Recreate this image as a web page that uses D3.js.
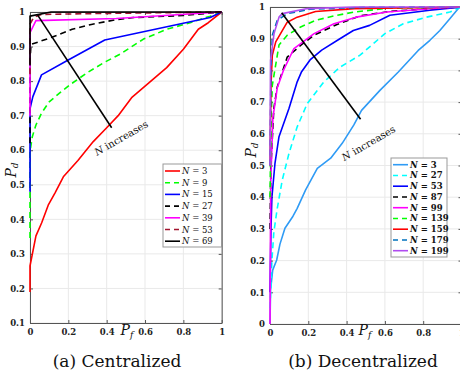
<!DOCTYPE html>
<html>
<head>
<meta charset="utf-8">
<script src="https://cdn.jsdelivr.net/npm/d3@7"></script>
<style>
  html, body { margin: 0; padding: 0; background: #fff; }
  svg { display: block; }
  svg text { font-family: "DejaVu Serif", "Liberation Serif", serif; }
  .tick-label { font-weight: bold; font-size: 8.5px; fill: #222; }
  .caption { font-size: 17px; fill: #111; }
</style>
</head>
<body>
<svg id="chart" width="460" height="381"></svg>
<script>
// ---- Centralized detection: ROC curves [Pf, Pd] ----
const cenN3  = [[0,0.19],[0,0.265],[0.031,0.352],[0.061,0.39],[0.095,0.441],[0.13,0.476],[0.174,0.523],[0.25,0.57],[0.33,0.625],[0.40,0.665],[0.46,0.70],[0.53,0.752],[0.62,0.795],[0.713,0.839],[0.80,0.892],[0.878,0.95],[0.93,0.969],[1,1]];
const cenN9  = [[0,0.346],[0,0.596],[0.012,0.639],[0.031,0.673],[0.06,0.707],[0.10,0.74],[0.16,0.768],[0.21,0.79],[0.30,0.825],[0.39,0.855],[0.47,0.878],[0.59,0.921],[0.713,0.95],[0.835,0.969],[0.94,0.988],[1,1]];
const cenN15 = [[0,0.48],[0,0.72],[0.015,0.755],[0.06,0.818],[0.19,0.858],[0.39,0.919],[0.94,0.984],[1,1]];
const cenN27 = [[0,0.62],[0,0.856],[0.005,0.906],[0.11,0.926],[0.22,0.95],[0.32,0.964],[0.45,0.978],[0.54,0.984],[0.80,0.99],[1,1]];
const cenN39 = [[0,0.70],[0,0.94],[0.031,0.975],[0.45,0.981],[1,1]];
const cenN53 = [[0,0.82],[0,0.965],[0.02,0.985],[0.06,0.993],[0.40,0.996],[1,1]];
const cenN69 = [[0,0.845],[0,0.988],[0.11,1],[1,1]];

// ---- Decentralized detection: ROC curves [Pf, Pd] ----
const decN3   = [[0,0],[0.003,0.107],[0.014,0.17],[0.035,0.202],[0.052,0.252],[0.078,0.302],[0.12,0.34],[0.142,0.365],[0.186,0.423],[0.247,0.491],[0.317,0.523],[0.377,0.57],[0.438,0.628],[0.478,0.674],[0.574,0.737],[0.67,0.795],[0.774,0.863],[0.835,0.895],[0.887,0.926],[0.939,0.963],[0.99,1],[1,1]];
const decN27  = [[0,0.05],[0.01,0.2],[0.02,0.29],[0.038,0.365],[0.064,0.454],[0.099,0.538],[0.142,0.622],[0.195,0.696],[0.282,0.764],[0.365,0.81],[0.47,0.848],[0.539,0.884],[0.60,0.916],[0.696,0.947],[0.817,0.968],[0.939,0.984],[1,1]];
const decN53  = [[0,0.1],[0.005,0.3],[0.01,0.4],[0.026,0.507],[0.047,0.591],[0.099,0.68],[0.142,0.764],[0.165,0.796],[0.209,0.833],[0.27,0.864],[0.365,0.90],[0.435,0.926],[0.52,0.942],[0.626,0.974],[0.835,0.99],[1,1]];
const decN87  = [[0,0.3],[0.005,0.5],[0.02,0.68],[0.038,0.748],[0.09,0.842],[0.16,0.879],[0.23,0.911],[0.35,0.945],[0.47,0.972],[0.626,0.986],[0.887,0.997],[1,1]];
const decN99  = [[0,0],[0.004,0.45],[0.015,0.65],[0.038,0.745],[0.07,0.80],[0.125,0.869],[0.23,0.916],[0.334,0.947],[0.45,0.968],[0.61,0.984],[0.887,0.997],[1,1]];
const decN139 = [[0,0.4],[0.006,0.65],[0.012,0.753],[0.047,0.88],[0.09,0.911],[0.16,0.937],[0.238,0.958],[0.35,0.974],[0.44,0.984],[0.61,0.996],[1,1]];
const decN159 = [[0,0.5],[0.005,0.75],[0.012,0.848],[0.03,0.89],[0.09,0.952],[0.142,0.968],[0.238,0.986],[0.44,0.995],[1,1]];
const decN179 = [[0,0.5],[0.005,0.8],[0.012,0.911],[0.038,0.958],[0.09,0.979],[0.21,0.993],[0.5,0.999],[1,1]];
const decN199 = [[0,0.5],[0.003,0.832],[0.021,0.916],[0.047,0.968],[0.064,0.979],[0.195,0.995],[0.44,1],[1,1]];

// legend labels (number of sensors)
const cenLabels = [3, 9, 15, 27, 39, 53, 69];
const decLabels = [3, 27, 53, 87, 99, 139, 159, 179, 199];

// tick values
const xTicks = [0, 0.2, 0.4, 0.6, 0.8, 1];
const cenYTicks = [0.1, 0.2, 0.3, 0.4, 0.5, 0.6, 0.7, 0.8, 0.9, 1];
const decYTicks = [0, 0.1, 0.2, 0.3, 0.4, 0.5, 0.6, 0.7, 0.8, 0.9, 1];

// "N increases" arrow line [from, to] and label anchor, in data units
const cenArrow = [[0.04, 0.991], [0.426, 0.665]];
const cenArrowText = [0.477, 0.634];
const decArrow = [[0.061, 0.982], [0.473, 0.646]];
const decArrowText = [0.516, 0.569];

const svg = d3.select("#chart");

const panels = [
  {
    series: [cenN3, cenN9, cenN15, cenN27, cenN39, cenN53, cenN69],
    labels: cenLabels,
    colors: ["#ff0000", "#00ff00", "#0000ff", "#000000", "#ff00ff", "#a2142f", "#000000"],
    dashed: [false, true, false, true, false, true, false],
    x: d3.scaleLinear().domain([0, 1]).range([30, 221.7]),
    y: d3.scaleLinear().domain([0.1, 1]).range([323, 12]),
    yTicks: cenYTicks,
    yFmt: d => d === 1 ? "1" : d3.format(".1f")(d),
    legend: { x: 163, y: 164, w: 58.5, h: 83, row: 11.7, first: 7 },
    legendBold: false,
    arrow: cenArrow, arrowText: cenArrowText,
    pd: [12, 170], pf: [127, 335],
    caption: "(a) Centralized", captionX: 117
  },
  {
    series: [decN3, decN27, decN53, decN87, decN99, decN139, decN159, decN179, decN199],
    labels: decLabels,
    colors: ["#2f9bf5", "#00ffff", "#0000ff", "#000000", "#ff00ff", "#00ff00", "#ff0000", "#0072bd", "#b04cf0"],
    dashed: [false, true, false, true, false, true, false, true, false],
    x: d3.scaleLinear().domain([0, 1]).range([270, 461.5]),
    y: d3.scaleLinear().domain([0, 1]).range([324, 7]),
    yTicks: decYTicks,
    yFmt: d => (d === 0 || d === 1) ? String(d) : d3.format(".1f")(d),
    legend: { x: 391, y: 158, w: 56, h: 99, row: 10.75, first: 6.7 },
    legendBold: true,
    arrow: decArrow, arrowText: decArrowText,
    pd: [252, 150], pf: [365, 335],
    caption: "(b) Decentralized", captionX: 363
  }
];

const fmtX = d => (d === 0 || d === 1) ? String(d) : d3.format(".1f")(d);

panels.forEach(p => {
  const g = svg.append("g");
  const [x0, x1] = p.x.range();
  const [y0, y1] = p.y.range(); // y0 bottom, y1 top

  // grid
  g.append("g").selectAll("line").data(xTicks).join("line")
    .attr("x1", d => p.x(d)).attr("x2", d => p.x(d))
    .attr("y1", y1).attr("y2", y0)
    .attr("stroke", "#e9e9e9").attr("stroke-width", 1);
  g.append("g").selectAll("line").data(p.yTicks).join("line")
    .attr("y1", d => p.y(d)).attr("y2", d => p.y(d))
    .attr("x1", x0).attr("x2", x1)
    .attr("stroke", "#e9e9e9").attr("stroke-width", 1);

  // axes via d3 (ticks pointing inward)
  const xAxis = d3.axisBottom(p.x).tickValues(xTicks).tickFormat(fmtX).tickSizeInner(-3).tickSizeOuter(0).tickPadding(6);
  const yAxis = d3.axisLeft(p.y).tickValues(p.yTicks).tickFormat(p.yFmt).tickSizeInner(-3).tickSizeOuter(0).tickPadding(5);
  const xTop = d3.axisTop(p.x).tickValues(xTicks).tickFormat("").tickSizeInner(-3).tickSizeOuter(0);
  const yRight = d3.axisRight(p.y).tickValues(p.yTicks).tickFormat("").tickSizeInner(-3).tickSizeOuter(0);

  const styleAxis = sel => {
    sel.attr("font-family", null).attr("font-size", null);
    sel.select(".domain").attr("stroke", "#555").attr("stroke-width", 1);
    sel.selectAll(".tick line").attr("stroke", "#555");
    sel.selectAll(".tick text").attr("class", "tick-label").attr("fill", null);
  };
  g.append("g").attr("transform", `translate(0,${y0})`).call(xAxis).call(styleAxis);
  g.append("g").attr("transform", `translate(${x0},0)`).call(yAxis).call(styleAxis);
  g.append("g").attr("transform", `translate(0,${y1})`).call(xTop).call(styleAxis);
  g.append("g").attr("transform", `translate(${x1},0)`).call(yRight).call(styleAxis);

  // curves
  const line = d3.line().x(d => p.x(d[0])).y(d => p.y(d[1]));
  const clipId = "clip" + Math.round(x0);
  svg.append("clipPath").attr("id", clipId).append("rect")
    .attr("x", x0 - 1.5).attr("y", y1 - 1.5).attr("width", x1 - x0 + 3).attr("height", y0 - y1 + 3);
  const curves = g.append("g").attr("clip-path", `url(#${clipId})`);
  p.series.forEach((s, i) => {
    curves.append("path").datum(s)
      .attr("d", line)
      .attr("fill", "none")
      .attr("stroke", p.colors[i])
      .attr("stroke-width", 1.6)
      .attr("stroke-linejoin", "round")
      .attr("stroke-dasharray", p.dashed[i] ? "6,4" : null);
  });

  // "N increases" annotation
  g.append("line")
    .attr("x1", p.x(p.arrow[0][0])).attr("y1", p.y(p.arrow[0][1]))
    .attr("x2", p.x(p.arrow[1][0])).attr("y2", p.y(p.arrow[1][1]))
    .attr("stroke", "#000").attr("stroke-width", 1.6);
  const at = g.append("text")
    .attr("transform", `translate(${p.x(p.arrowText[0])},${p.y(p.arrowText[1])}) rotate(-30)`)
    .attr("text-anchor", "middle").attr("dominant-baseline", "middle")
    .attr("font-size", 10).attr("fill", "#111");
  at.append("tspan").attr("font-style", "italic").text("N");
  at.append("tspan").text(" increases");

  // legend
  const L = p.legend;
  const lg = g.append("g");
  lg.append("rect").attr("x", L.x).attr("y", L.y).attr("width", L.w).attr("height", L.h)
    .attr("fill", "#fff").attr("stroke", "#999").attr("stroke-width", 1);
  p.labels.forEach((n, i) => {
    const yy = L.y + L.first + i * L.row;
    lg.append("line").attr("x1", L.x + 2).attr("x2", L.x + 17).attr("y1", yy).attr("y2", yy)
      .attr("stroke", p.colors[i]).attr("stroke-width", 1.6)
      .attr("stroke-dasharray", p.dashed[i] ? "5,4" : null);
    const t = lg.append("text").attr("x", L.x + 19).attr("y", yy)
      .attr("dominant-baseline", "middle")
      .attr("font-size", 8.5)
      .attr("font-weight", p.legendBold ? "bold" : "normal").attr("fill", "#111");
    t.append("tspan").attr("font-style", "italic").text("N");
    t.append("tspan").text(" = " + n);
  });

  // axis titles
  const pdT = g.append("text")
    .attr("transform", `translate(${p.pd[0]},${p.pd[1]}) rotate(-90)`)
    .attr("text-anchor", "middle").attr("dominant-baseline", "middle")
    .attr("font-size", 14).attr("fill", "#111");
  pdT.append("tspan").attr("font-style", "italic").text("P");
  pdT.append("tspan").attr("font-style", "italic").attr("font-size", 9).attr("dy", 3).text("d");

  const pfT = g.append("text")
    .attr("x", p.pf[0]).attr("y", p.pf[1])
    .attr("text-anchor", "middle")
    .attr("font-size", 14).attr("fill", "#111");
  pfT.append("tspan").attr("font-style", "italic").text("P");
  pfT.append("tspan").attr("font-style", "italic").attr("font-size", 9).attr("dy", 3).text("f");

  // caption
  g.append("text").attr("class", "caption")
    .attr("x", p.captionX).attr("y", 367).attr("text-anchor", "middle")
    .text(p.caption);
});
</script>
</body>
</html>
